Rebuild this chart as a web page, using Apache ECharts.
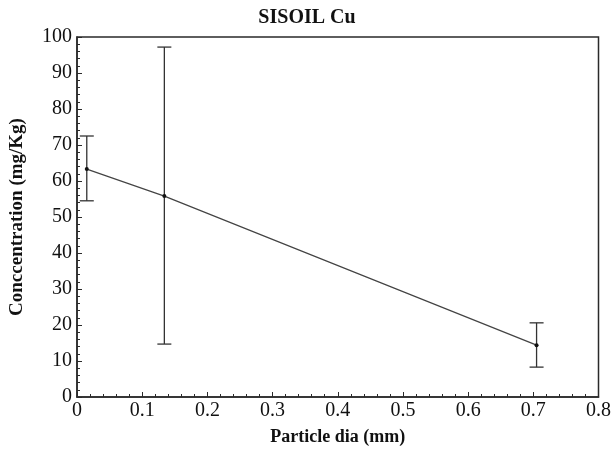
<!DOCTYPE html>
<html>
<head>
<meta charset="utf-8">
<style>
  html, body { margin: 0; padding: 0; background: #fff; }
  #chart { width: 614px; height: 453px; }
</style>
<script src="https://cdn.jsdelivr.net/npm/echarts@6/dist/echarts.min.js"></script>
</head>
<body>
<div id="chart"></div>
<script>
// Particle diameter (mm) and Cu concentration (mg/Kg) with error bar limits
const particleDia = [0.015, 0.134, 0.705];
const concentration = [63.3, 55.8, 14.4];
const errLow = [54.5, 14.7, 8.3];
const errHigh = [72.5, 97.2, 20.6];

const xTicks = [0, 0.1, 0.2, 0.3, 0.4, 0.5, 0.6, 0.7, 0.8];
const yTicks = [0, 10, 20, 30, 40, 50, 60, 70, 80, 90, 100];

const fontFam = '"Liberation Serif", "Times New Roman", serif';
const ink = '#2a2a2a';

const lineData = particleDia.map((x, i) => [x, concentration[i]]);
const errData = particleDia.map((x, i) => [x, errLow[i], errHigh[i]]);

const chart = echarts.init(document.getElementById('chart'), null, { renderer: 'canvas' });

chart.setOption({
  animation: false,
  backgroundColor: '#fff',
  title: {
    text: 'SISOIL Cu',
    left: 'center',
    top: 3,
    textStyle: { fontFamily: fontFam, fontSize: 20, fontWeight: 'bold', color: '#111' }
  },
  grid: {
    left: 77, right: 14, top: 37, bottom: 56,
    show: true, borderColor: ink, borderWidth: 1.5, backgroundColor: 'transparent'
  },
  xAxis: {
    type: 'value',
    min: xTicks[0], max: xTicks[xTicks.length - 1], interval: 0.1,
    name: 'Particle dia (mm)',
    nameLocation: 'middle',
    nameGap: 31,
    nameTextStyle: { fontFamily: fontFam, fontSize: 18, fontWeight: 'bold', color: '#111' },
    axisLine: { show: true, lineStyle: { color: ink, width: 1.5 } },
    axisTick: { show: true, inside: true, length: 5, lineStyle: { color: ink } },
    minorTick: { show: true, splitNumber: 5, length: 3, lineStyle: { color: ink } },
    splitLine: { show: false },
    axisLabel: {
      margin: 4, fontFamily: fontFam, fontSize: 20, color: '#111',
      formatter: v => String(+v.toFixed(1))
    }
  },
  yAxis: {
    type: 'value',
    min: yTicks[0], max: yTicks[yTicks.length - 1], interval: 10,
    name: 'Conccentration (mg/Kg)',
    nameLocation: 'middle',
    nameGap: 50,
    nameTextStyle: { fontFamily: fontFam, fontSize: 19, fontWeight: 'bold', color: '#111' },
    axisLine: { show: true, lineStyle: { color: ink, width: 1.5 } },
    axisTick: { show: true, inside: true, length: 5, lineStyle: { color: ink } },
    minorTick: { show: true, splitNumber: 5, length: 3, lineStyle: { color: ink } },
    splitLine: { show: false },
    axisLabel: { margin: 5, fontFamily: fontFam, fontSize: 20, color: '#111' }
  },
  series: [
    {
      type: 'line',
      data: lineData,
      symbol: 'circle',
      symbolSize: 4,
      itemStyle: { color: '#111' },
      lineStyle: { color: '#444', width: 1.2 }
    },
    {
      type: 'custom',
      data: errData,
      renderItem: function (params, api) {
        const x = api.value(0);
        const lo = api.coord([x, api.value(1)]);
        const hi = api.coord([x, api.value(2)]);
        const half = 7;
        const style = { stroke: '#333', lineWidth: 1.3, fill: null };
        return {
          type: 'group',
          children: [
            { type: 'line', shape: { x1: lo[0], y1: lo[1], x2: hi[0], y2: hi[1] }, style },
            { type: 'line', shape: { x1: hi[0] - half, y1: hi[1], x2: hi[0] + half, y2: hi[1] }, style },
            { type: 'line', shape: { x1: lo[0] - half, y1: lo[1], x2: lo[0] + half, y2: lo[1] }, style }
          ]
        };
      },
      z: 3
    }
  ]
});
</script>
</body>
</html>
